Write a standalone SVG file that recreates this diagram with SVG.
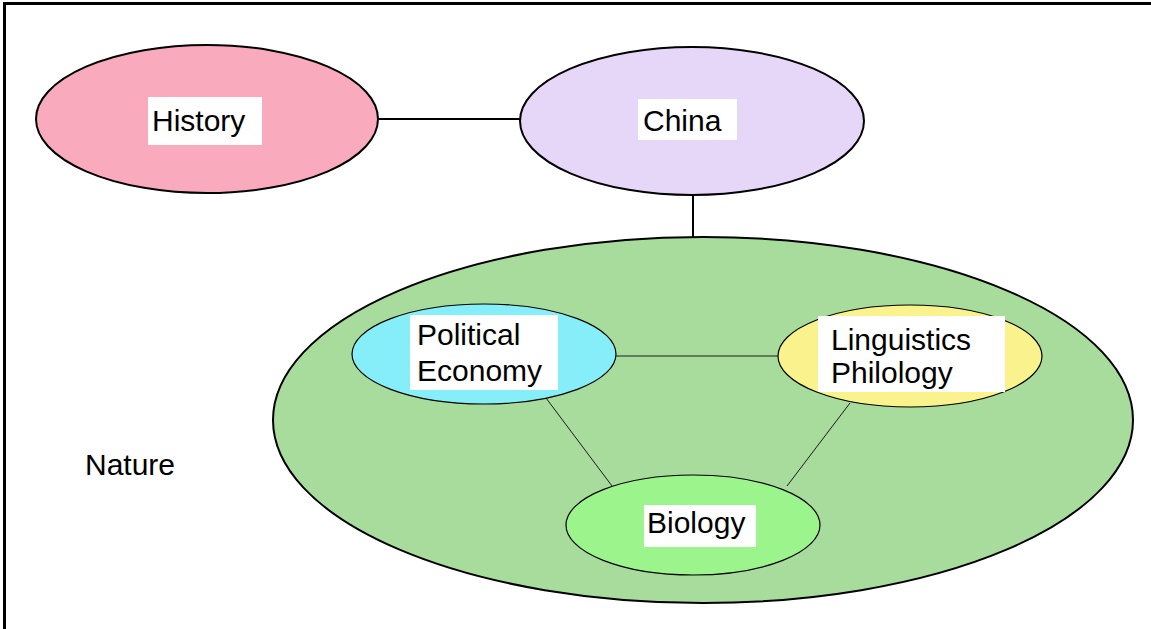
<svg xmlns="http://www.w3.org/2000/svg" width="1151" height="629" viewBox="0 0 1151 629">
  <style>
    .node { stroke: #000; stroke-width: 2; }
    .inner { stroke: #000; stroke-width: 1.2; }
    .lbl { fill: #fff; }
    text { font-family: "Liberation Sans", Arial, sans-serif; font-size: 30px; fill: #000; }
    .conn-thick { stroke: #000; stroke-width: 2; fill: none; }
    .conn-thin { stroke: #1a1a1a; stroke-width: 1; fill: none; }
  </style>
  <rect width="1151" height="629" fill="#fff"/>
  <!-- frame -->
  <path d="M4.5 629 V3.5 H1151" fill="none" stroke="#000" stroke-width="3"/>

  <!-- connectors -->
  <g id="connectors">
    <line class="conn-thick" x1="378" y1="119" x2="520" y2="119"/>
    <line class="conn-thick" x1="693" y1="195" x2="693" y2="237"/>
  </g>

  <g id="nature">
    <ellipse class="node" cx="703" cy="420" rx="430" ry="183" fill="#A8DC9C"/>
    <text x="85" y="475">Nature</text>
  </g>

  <g id="inner-connectors">
    <line class="conn-thin" x1="616" y1="356" x2="778" y2="356"/>
    <line class="conn-thin" x1="546" y1="398" x2="612" y2="486"/>
    <line class="conn-thin" x1="850" y1="403" x2="787" y2="486"/>
  </g>

  <g id="history">
    <ellipse class="node" cx="207" cy="119" rx="171" ry="74" fill="#F9AABC"/>
    <rect class="lbl" x="148" y="97" width="114" height="48"/>
    <text x="152" y="131">History</text>
  </g>

  <g id="china">
    <ellipse class="node" cx="692" cy="121" rx="172" ry="74" fill="#E6D6F8"/>
    <rect class="lbl" x="638" y="99" width="99" height="41"/>
    <text x="643" y="131">China</text>
  </g>

  <g id="political-economy">
    <ellipse class="inner" cx="484" cy="354" rx="132" ry="50" fill="#86EEF8"/>
    <rect class="lbl" x="410" y="315" width="148" height="75"/>
    <text x="417" y="345">Political</text>
    <text x="417" y="381">Economy</text>
  </g>

  <g id="linguistics-philology">
    <ellipse class="inner" cx="910" cy="356" rx="132" ry="51" fill="#FAF28C"/>
    <rect class="lbl" x="818" y="316" width="187" height="76"/>
    <text x="831" y="350">Linguistics</text>
    <text x="831" y="383">Philology</text>
  </g>

  <g id="biology">
    <ellipse class="inner" cx="693" cy="525" rx="127" ry="50" fill="#9CF48C"/>
    <rect class="lbl" x="644" y="505" width="112" height="42"/>
    <text x="647" y="533">Biology</text>
  </g>
</svg>
